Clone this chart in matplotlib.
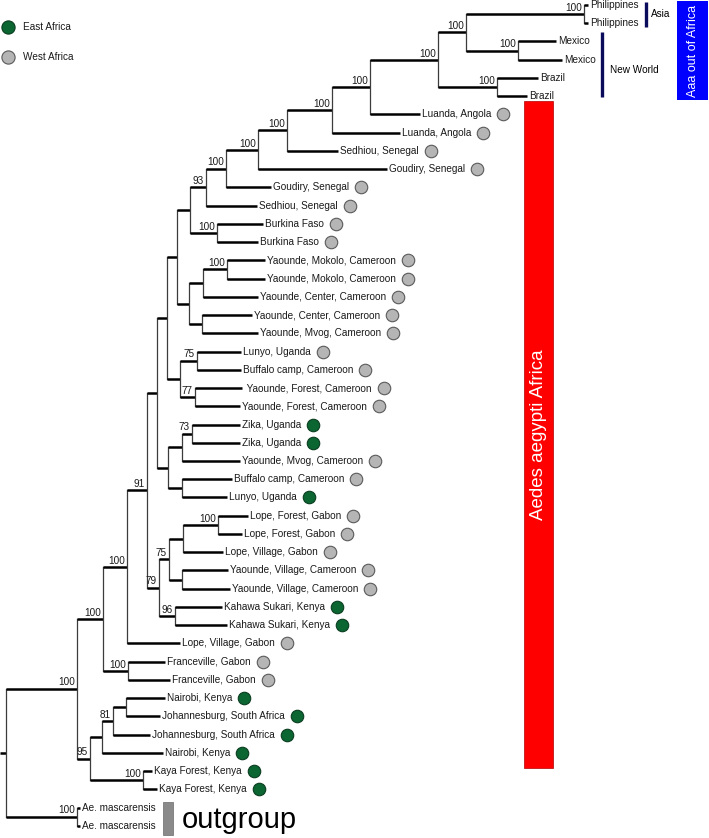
import matplotlib
matplotlib.use('Agg')
import matplotlib.pyplot as plt
from matplotlib.patches import Rectangle

plt.rcParams['font.family'] = ['Liberation Sans', 'DejaVu Sans']

# tips, top to bottom (tN in the Newick strings below is TIP_NAMES[N])
TIP_NAMES = ['Philippines', 'Philippines', 'Mexico', 'Mexico', 'Brazil', 'Brazil',
             'Luanda, Angola', 'Luanda, Angola', 'Sedhiou, Senegal', 'Goudiry, Senegal',
             'Goudiry, Senegal', 'Sedhiou, Senegal', 'Burkina Faso', 'Burkina Faso',
             'Yaounde, Mokolo, Cameroon', 'Yaounde, Mokolo, Cameroon',
             'Yaounde, Center, Cameroon', 'Yaounde, Center, Cameroon',
             'Yaounde, Mvog, Cameroon', 'Lunyo, Uganda', 'Buffalo camp, Cameroon',
             ' Yaounde, Forest, Cameroon', 'Yaounde, Forest, Cameroon',
             'Zika, Uganda', 'Zika, Uganda', 'Yaounde, Mvog, Cameroon', 'Buffalo camp, Cameroon',
             'Lunyo, Uganda', 'Lope, Forest, Gabon', 'Lope, Forest, Gabon', 'Lope, Village, Gabon',
             'Yaounde, Village, Cameroon', 'Yaounde, Village, Cameroon',
             'Kahawa Sukari, Kenya', 'Kahawa Sukari, Kenya', 'Lope, Village, Gabon',
             'Franceville, Gabon', 'Franceville, Gabon', 'Nairobi, Kenya',
             'Johannesburg, South Africa', 'Johannesburg, South Africa', 'Nairobi, Kenya',
             'Kaya Forest, Kenya', 'Kaya Forest, Kenya', 'Ae. mascarensis', 'Ae. mascarensis']
# E = East Africa, W = West Africa, '' = no marker
TIP_REGION = ['', '', '', '', '', '',
              'W', 'W', 'W', 'W', 'W', 'W', 'W', 'W',
              'W', 'W', 'W', 'W', 'W', 'W', 'W', 'W', 'W',
              'E', 'E', 'W', 'W', 'E',
              'W', 'W', 'W', 'W', 'W', 'E', 'E', 'W', 'W', 'W',
              'E', 'E', 'E', 'E', 'E', 'E', '', '']

# topology with branch lengths (arbitrary units), bootstrap support as node labels
CLADE_OUT_OF_AFRICA = "(((t0:4,t1:4)100:118,(t2:38,t3:44)100:52)100:28,(t4:41,t5:30)100:59)100:68"
CLADE_SENEGAL = ("((((((" + CLADE_OUT_OF_AFRICA + ",t6:50)100:38,t7:68)100:45,t8:51)100:29,"
                 "t9:129)100:32,t10:45)100:20,t11:51)93:16")
CLADE_W = ("((" + CLADE_SENEGAL + ",(t12:46,t13:41)100:27):13,"
           "(((t14:38,t15:38)100:24,t16:55):14,(t17:50,t18:56):13):12):10")
CLADE_R = "(" + CLADE_W + ",((t19:44,t20:44)75:17,(t21:47,t22:45)77:15):13):10"
CLADE_K = "(" + CLADE_R + ",(((t23:48,t24:48)73:10,t25:58):14,(t26:50,t27:45):14):11):10"
CLADE_L = "((((t28:30,t29:24)100:35,t30:40):14,(t31:46,t32:48):13)75:10,(t33:47,t34:52)96:16)79:12"
CLADE_B = "(((" + CLADE_K + "," + CLADE_L + ")91:20,t35:53)100:24,(t36:37,t37:42)100:25)100:26"
CLADE_C = "((((t38:39,t39:34):13,t40:37)81:11,t41:61):12,(t42:9,t43:14)100:53)95:13"
TREE = "((" + CLADE_B + "," + CLADE_C + ")100:71,(t44:3,t45:3)100:71):6;"

LEGEND = [('East Africa', 'E'), ('West Africa', 'W')]

TIP_TOP = 5.0
TIP_STEP = 18.24
GREEN = '#0b6632'
GREY = '#b5b5b5'
MARKER_STYLE = {'E': dict(mfc=GREEN, mec='#0a3d20'), 'W': dict(mfc=GREY, mec='#5a5a5a')}
TEXT_SIZE = 7.2


def parse_newick(s):
    pos = 0

    def node():
        nonlocal pos
        n = {'children': [], 'name': '', 'length': 0.0}
        if s[pos] == '(':
            pos += 1
            n['children'].append(node())
            while s[pos] == ',':
                pos += 1
                n['children'].append(node())
            pos += 1
        start = pos
        while s[pos] not in ':,);':
            pos += 1
        n['name'] = s[start:pos]
        if s[pos] == ':':
            pos += 1
            start = pos
            while s[pos] not in ',);':
                pos += 1
            n['length'] = float(s[start:pos])
        return n

    return node()


def layout(n, x0, tips):
    n['x0'] = x0
    n['x'] = x0 + n['length']
    if n['children']:
        for c in n['children']:
            layout(c, n['x'], tips)
        n['y'] = (n['children'][0]['y'] + n['children'][-1]['y']) / 2
    else:
        n['idx'] = int(n['name'][1:])
        n['y'] = TIP_TOP + n['idx'] * TIP_STEP
        tips.append(n)


def draw(ax, n):
    ax.plot([n['x0'], n['x']], [n['y'], n['y']], color='black', lw=1.8, solid_capstyle='butt')
    if n['children']:
        ys = [c['y'] for c in n['children']]
        ax.plot([n['x'], n['x']], [min(ys), max(ys)], color='#3c3c3c', lw=0.9)
        if n['name']:
            ax.text(n['x'] - 2, n['y'] - 1.2, n['name'], ha='right', va='bottom',
                    fontsize=TEXT_SIZE, color='#1a1a1a')
        for c in n['children']:
            draw(ax, c)


fig = plt.figure(figsize=(7.09, 8.38), dpi=100)
ax = fig.add_axes([0, 0, 1, 1])
ax.set_xlim(0, 709)
ax.set_ylim(838, 0)
ax.axis('off')

root = parse_newick(TREE)
tips = []
layout(root, 0.0, tips)
draw(ax, root)
tip_y = {t['idx']: t['y'] for t in tips}

tip_texts = []
for t in tips:
    txt = ax.text(t['x'] + 2, t['y'], TIP_NAMES[t['idx']], va='center', ha='left',
                  fontsize=TEXT_SIZE, color='#1a1a1a')
    tip_texts.append((txt, t))

fig.canvas.draw()
renderer = fig.canvas.get_renderer()
inv = ax.transData.inverted()
for txt, t in tip_texts:
    region = TIP_REGION[t['idx']]
    if not region:
        continue
    bb = txt.get_window_extent(renderer)
    x_end = inv.transform((bb.x1, bb.y0))[0]
    ax.plot(x_end + 12, t['y'], 'o', ms=9, mew=0.8, **MARKER_STYLE[region])

# legend
for k, (label, region) in enumerate(LEGEND):
    ax.plot(8, 27 + k * 30, 'o', ms=9.5, mew=0.8, **MARKER_STYLE[region])
    ax.text(23, 27 + k * 30, label, va='center', fontsize=TEXT_SIZE, color='#1a1a1a')

# clade annotations
ax.plot([646, 646], [tip_y[0] - 3, tip_y[1] + 4], color='#0b0b5c', lw=2.4, solid_capstyle='butt')
ax.text(651, (tip_y[0] + tip_y[1]) / 2, 'Asia', va='center', fontsize=TEXT_SIZE)
ax.plot([602, 602], [tip_y[2] - 9, tip_y[5] + 1], color='#0b0b5c', lw=2.4, solid_capstyle='butt')
ax.text(610, (tip_y[2] + tip_y[5]) / 2 + 1, 'New World', va='center', fontsize=TEXT_SIZE)

ax.add_patch(Rectangle((677, tip_y[0] - 4), 31, tip_y[5] - tip_y[0] + 8, color='#0000ff', lw=0))
ax.text(692.5, (tip_y[0] + tip_y[5]) / 2, 'Aaa out of Africa', rotation=90, ha='center',
        va='center', color='white', fontsize=9)

red_top, red_bottom = tip_y[6] - 13, tip_y[42] - 3
ax.add_patch(Rectangle((524, red_top), 29, red_bottom - red_top, facecolor='#ff0000',
                       edgecolor='#b00000', lw=0.5))
ax.text(538.5, (red_top + red_bottom) / 2, 'Aedes aegypti Africa', rotation=90, ha='center',
        va='center', color='white', fontsize=13.5)

ax.add_patch(Rectangle((163, tip_y[44] - 6), 10, tip_y[45] - tip_y[44] + 15,
                       facecolor='#8a8a8a', edgecolor='#6a6a6a', lw=0.5))
ax.text(182, tip_y[45] + 2, 'outgroup', va='baseline', fontsize=21, color='black')

fig.savefig('out.png', dpi=100)
